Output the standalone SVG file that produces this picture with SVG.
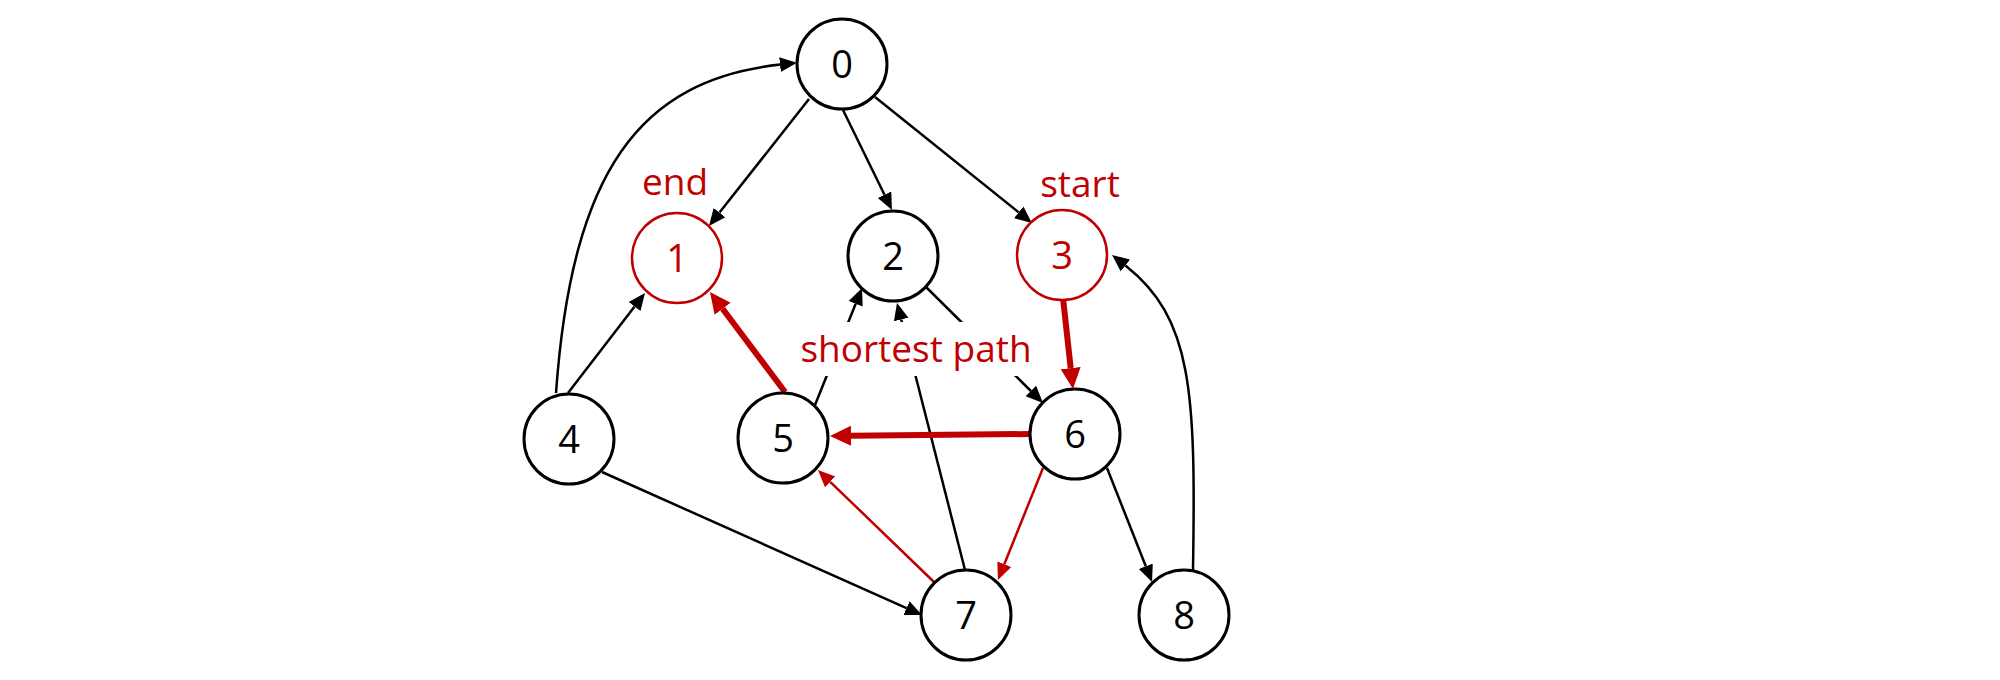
<svg xmlns="http://www.w3.org/2000/svg" width="2000" height="680" viewBox="0 0 2000 680">
  <style>
    .node { fill: #ffffff; stroke: #000000; stroke-width: 3; }
    .node.red { stroke: #C00000; stroke-width: 2.5; }
    .lbl { font-family: "Open Sans", "Liberation Sans", sans-serif; font-size: 38px; text-anchor: middle; fill: #000000; }
    .lbl.red { fill: #C00000; }
    .note { font-family: "Open Sans", "Liberation Sans", sans-serif; font-size: 37px; text-anchor: middle; fill: #C00000; }
    .e { fill: none; stroke: #000000; stroke-width: 2.5; marker-end: url(#ab); }
    .er { fill: none; stroke: #C00000; stroke-width: 2.5; marker-end: url(#ar); }
    .et { fill: none; stroke: #C00000; stroke-width: 6; marker-end: url(#at); }
  </style>
  <defs>
    <marker id="ab" markerUnits="userSpaceOnUse" markerWidth="20" markerHeight="20" viewBox="0 -10 20 20" refX="0" refY="0" orient="auto">
      <path d="M0,-7.5 L17,0 L0,7.5 Z" fill="#000000"/>
    </marker>
    <marker id="ar" markerUnits="userSpaceOnUse" markerWidth="20" markerHeight="20" viewBox="0 -10 20 20" refX="0" refY="0" orient="auto">
      <path d="M0,-7.5 L17,0 L0,7.5 Z" fill="#C00000"/>
    </marker>
    <marker id="at" markerUnits="userSpaceOnUse" markerWidth="24" markerHeight="24" viewBox="0 -12 24 24" refX="0" refY="0" orient="auto">
      <path d="M0,-10 L21,0 L0,10 Z" fill="#C00000"/>
    </marker>
  </defs>
  <rect width="2000" height="680" fill="#ffffff"/>
  <g id="connectors">
    <path class="e" d="M809,99 L719.5,212.6"/>
    <path class="e" d="M843,110 L884.5,194.7"/>
    <path class="e" d="M875,97 L1018.7,212.4"/>
    <path class="e" d="M556,393 C572,170 640,80 780,64.6"/>
    <path class="e" d="M568,393 L634.6,306.5"/>
    <path class="et" d="M785,392 L722.6,308.8"/>
    <path class="e" d="M815,405 L855.7,303.8"/>
    <path class="e" d="M965,570 L901.2,319.5"/>
    <path class="e" d="M926,287 L1030.9,391"/>
    <path class="et" d="M1063,298 L1070.7,368.1"/>
    <path class="et" d="M1030,434 L851,435.8"/>
    <path class="er" d="M1043,468 L1004.3,564.2"/>
    <path class="er" d="M934,582 L830.2,481.8"/>
    <path class="e" d="M602,472 L906.5,608.1"/>
    <path class="e" d="M1107,468 L1145.8,566.2"/>
    <path class="e" d="M1193,570 C1196,390 1192,318 1125.4,265.5"/>
  </g>
  <g id="label-shortest-path">
    <rect x="796" y="322" width="240" height="54" fill="#ffffff"/>
    <text class="note" x="916" y="362">shortest path</text>
  </g>
  <g id="label-end"><text class="note" x="675" y="195">end</text></g>
  <g id="label-start"><text class="note" x="1080" y="197">start</text></g>
  <g id="node0"><circle class="node" cx="842" cy="64" r="45"/><text class="lbl" x="842" y="78">0</text></g>
  <g id="node1"><circle class="node red" cx="677" cy="258" r="45"/><text class="lbl red" x="677" y="272">1</text></g>
  <g id="node2"><circle class="node" cx="893" cy="256" r="45"/><text class="lbl" x="893" y="270">2</text></g>
  <g id="node3"><circle class="node red" cx="1062" cy="255" r="45"/><text class="lbl red" x="1062" y="269">3</text></g>
  <g id="node4"><circle class="node" cx="569" cy="439" r="45"/><text class="lbl" x="569" y="453">4</text></g>
  <g id="node5"><circle class="node" cx="783" cy="438" r="45"/><text class="lbl" x="783" y="452">5</text></g>
  <g id="node6"><circle class="node" cx="1075" cy="434" r="45"/><text class="lbl" x="1075" y="448">6</text></g>
  <g id="node7"><circle class="node" cx="966" cy="615" r="45"/><text class="lbl" x="966" y="629">7</text></g>
  <g id="node8"><circle class="node" cx="1184" cy="615" r="45"/><text class="lbl" x="1184" y="629">8</text></g>
</svg>
